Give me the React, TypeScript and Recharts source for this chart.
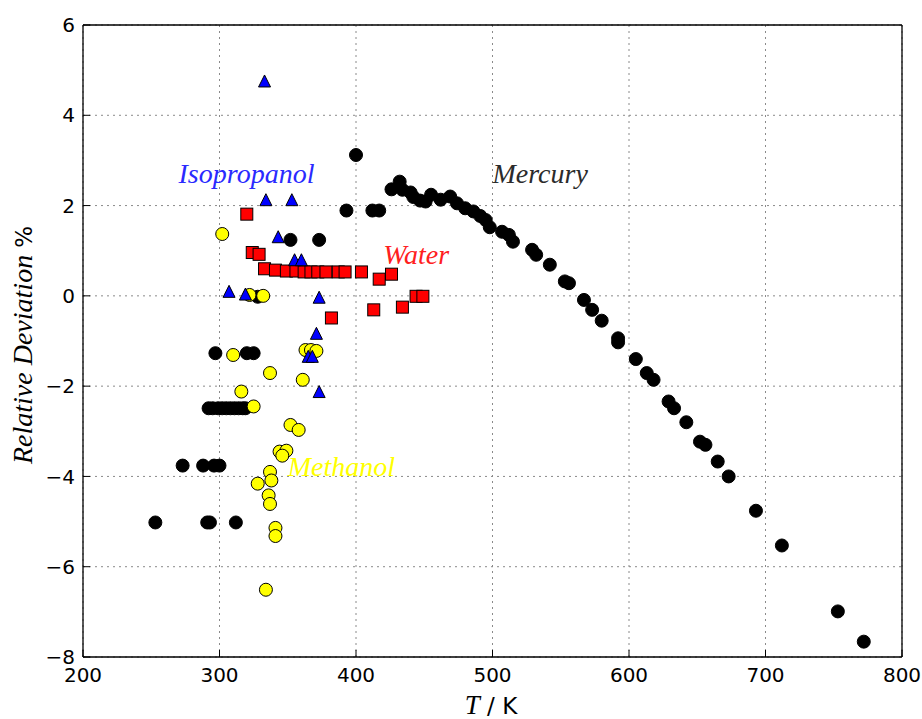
import React from "react";
import { ScatterChart, Scatter, XAxis, YAxis, CartesianGrid, ReferenceDot } from "recharts";

const X_TICKS = [200, 300, 400, 500, 600, 700, 800];
const Y_TICKS = [-8, -6, -4, -2, 0, 2, 4, 6];

const MERCURY_T = [
  253, 273, 288, 291, 293, 296, 300, 312,
  292, 295, 299, 302, 305, 308, 311, 314, 317, 319,
  297, 320, 325, 328, 352, 373, 393, 400, 412, 417,
  426, 432, 434, 440, 442, 447, 451, 455, 462, 469, 474, 480, 486, 491, 495, 498,
  507, 512, 515, 529, 532, 542, 553, 556, 567, 573, 580, 592, 592, 605, 613, 618,
  629, 633, 642, 652, 656, 665, 673, 693, 712, 753, 772,
];
const MERCURY_DEV = [
  -5.02, -3.76, -3.76, -5.02, -5.02, -3.76, -3.76, -5.02,
  -2.49, -2.49, -2.49, -2.49, -2.49, -2.49, -2.49, -2.49, -2.49, -2.49,
  -1.27, -1.27, -1.27, -0.02, 1.24, 1.24, 1.89, 3.12, 1.89, 1.89,
  2.36, 2.53, 2.35, 2.29, 2.19, 2.11, 2.09, 2.24, 2.13, 2.2, 2.05, 1.94, 1.87, 1.77, 1.68, 1.52,
  1.42, 1.35, 1.2, 1.02, 0.91, 0.69, 0.32, 0.28, -0.09, -0.31, -0.55, -0.94, -1.03, -1.4, -1.71, -1.86,
  -2.34, -2.49, -2.8, -3.23, -3.3, -3.67, -4.0, -4.76, -5.53, -6.99, -7.66,
];

const METHANOL_T = [
  302, 322, 332, 310, 363, 367, 371, 337, 361, 316, 325, 352, 358, 344, 349, 346,
  337, 338, 328, 336, 337, 341, 341, 334,
];
const METHANOL_DEV = [
  1.37, 0.02, 0.0, -1.31, -1.2, -1.2, -1.22, -1.71, -1.86, -2.12, -2.45, -2.86, -2.97, -3.45, -3.43, -3.54,
  -3.9, -4.09, -4.16, -4.42, -4.61, -5.14, -5.32, -6.51,
];

const WATER_T = [320, 324, 329, 333, 341, 349, 356, 362, 367, 372, 378, 387, 392, 404, 417, 426, 382, 413, 434, 444, 449];
const WATER_DEV = [1.81, 0.96, 0.92, 0.6, 0.57, 0.55, 0.55, 0.53, 0.53, 0.53, 0.53, 0.53, 0.53, 0.53, 0.37, 0.48, -0.49, -0.31, -0.25, -0.01, -0.01];

const ISO_T = [333, 334, 353, 343, 355, 360, 307, 319, 373, 371, 365, 368, 373];
const ISO_DEV = [4.76, 2.13, 2.13, 1.31, 0.8, 0.8, 0.1, 0.04, -0.03, -0.83, -1.34, -1.34, -2.12];

const LABEL_TEXT = ["Isopropanol", "Mercury", "Water", "Methanol"];
const LABEL_T = [270, 500, 420, 350];
const LABEL_DEV = [2.5, 2.5, 0.7, -4.0];
const LABEL_COLOR = ["#2a2aff", "#2b2b2b", "#ff2020", "#ffff00"];

const zip = (t: number[], d: number[]) => t.map((v, i) => ({ t: v, d: d[i] }));

const mercury = zip(MERCURY_T, MERCURY_DEV);
const methanol = zip(METHANOL_T, METHANOL_DEV);
const water = zip(WATER_T, WATER_DEV);
const isopropanol = zip(ISO_T, ISO_DEV);

const SANS = "'DejaVu Sans', sans-serif";
const SERIF = "'Liberation Serif', 'DejaVu Serif', serif";
const fmt = (v: number) => (v < 0 ? "\u2212" + Math.abs(v) : String(v));

const circle = (fill: string) => (p: any) => (
  <circle cx={p.cx} cy={p.cy} r={6.5} fill={fill} stroke="#000" strokeWidth={1} />
);
const square = (p: any) => (
  <rect x={p.cx - 6} y={p.cy - 6} width={12} height={12} fill="#ff0000" stroke="#000" strokeWidth={1} />
);
const triangle = (p: any) => (
  <polygon
    points={`${p.cx},${p.cy - 6} ${p.cx - 6},${p.cy + 6} ${p.cx + 6},${p.cy + 6}`}
    fill="#0000ff"
    stroke="#000"
    strokeWidth={1}
  />
);

const BottomTick = ({ x, y, payload }: any) => (
  <g>
    <line x1={x} y1={y} x2={x} y2={y - 7} stroke="#000" strokeWidth={1} />
    <text x={x} y={y + 25} textAnchor="middle" fontFamily={SANS} fontSize={20} fill="#000">
      {payload.value}
    </text>
  </g>
);
const TopTick = ({ x, y }: any) => <line x1={x} y1={y} x2={x} y2={y + 7} stroke="#000" strokeWidth={1} />;
const LeftTick = ({ x, y, payload }: any) => (
  <g>
    <line x1={x} y1={y} x2={x + 7} y2={y} stroke="#000" strokeWidth={1} />
    <text x={x - 8} y={y} dy="0.36em" textAnchor="end" fontFamily={SANS} fontSize={20} fill="#000">
      {fmt(payload.value)}
    </text>
  </g>
);
const RightTick = ({ x, y }: any) => <line x1={x} y1={y} x2={x - 7} y2={y} stroke="#000" strokeWidth={1} />;

const YLabel = () => (
  <text transform="translate(32, 345) rotate(-90)" textAnchor="middle" fill="#000">
    <tspan fontFamily={SERIF} fontStyle="italic" fontSize={28}>Relative Deviation </tspan>
    <tspan fontFamily={SANS} fontSize={23}>%</tspan>
  </text>
);
const XLabel = () => (
  <text x={491} y={714} textAnchor="middle" fill="#000">
    <tspan fontFamily={SERIF} fontStyle="italic" fontSize={27}>T</tspan>
    <tspan fontFamily={SANS} fontSize={23}> / K</tspan>
  </text>
);

export default function App() {
  return (
    <div style={{ position: "absolute", left: 0, top: 0, width: 922, height: 719, background: "#fff" }}>
      <ScatterChart width={922} height={719} margin={{ top: 0, right: 0, bottom: 0, left: 0 }}>
        <CartesianGrid stroke="#8a8a8a" strokeDasharray="2 4" strokeWidth={1} />
        <XAxis
          dataKey="t"
          type="number"
          domain={[200, 800]}
          ticks={X_TICKS}
          height={62}
          tickSize={0}
          tickMargin={0}
          tickLine={false}
          tick={BottomTick}
          axisLine={{ stroke: "#000", strokeWidth: 1.3 }}
        />
        <XAxis
          xAxisId="top"
          orientation="top"
          type="number"
          domain={[200, 800]}
          ticks={X_TICKS}
          height={25}
          tickSize={0}
          tickMargin={0}
          tickLine={false}
          tick={TopTick}
          axisLine={{ stroke: "#000", strokeWidth: 1.3 }}
        />
        <YAxis
          dataKey="d"
          type="number"
          domain={[-8, 6]}
          ticks={Y_TICKS}
          width={83}
          tickSize={0}
          tickMargin={0}
          tickLine={false}
          tick={LeftTick}
          axisLine={{ stroke: "#000", strokeWidth: 1.3 }}
        />
        <YAxis
          yAxisId="right"
          orientation="right"
          type="number"
          domain={[-8, 6]}
          ticks={Y_TICKS}
          width={20}
          tickSize={0}
          tickMargin={0}
          tickLine={false}
          tick={RightTick}
          axisLine={{ stroke: "#000", strokeWidth: 1.3 }}
        />
        <Scatter name="Mercury" data={mercury} shape={circle("#000")} isAnimationActive={false} />
        <Scatter name="Methanol" data={methanol} shape={circle("#ffff00")} isAnimationActive={false} />
        <Scatter name="Water" data={water} shape={square} isAnimationActive={false} />
        <Scatter name="Isopropanol" data={isopropanol} shape={triangle} isAnimationActive={false} />
        {LABEL_TEXT.map((txt, i) => (
          <ReferenceDot
            key={txt}
            x={LABEL_T[i]}
            y={LABEL_DEV[i]}
            r={0}
            shape={(p: any) => (
              <text x={p.cx} y={p.cy} fontFamily={SERIF} fontStyle="italic" fontSize={28} fill={LABEL_COLOR[i]}>
                {txt}
              </text>
            )}
          />
        ))}
        <YLabel />
        <XLabel />
      </ScatterChart>
    </div>
  );
}
